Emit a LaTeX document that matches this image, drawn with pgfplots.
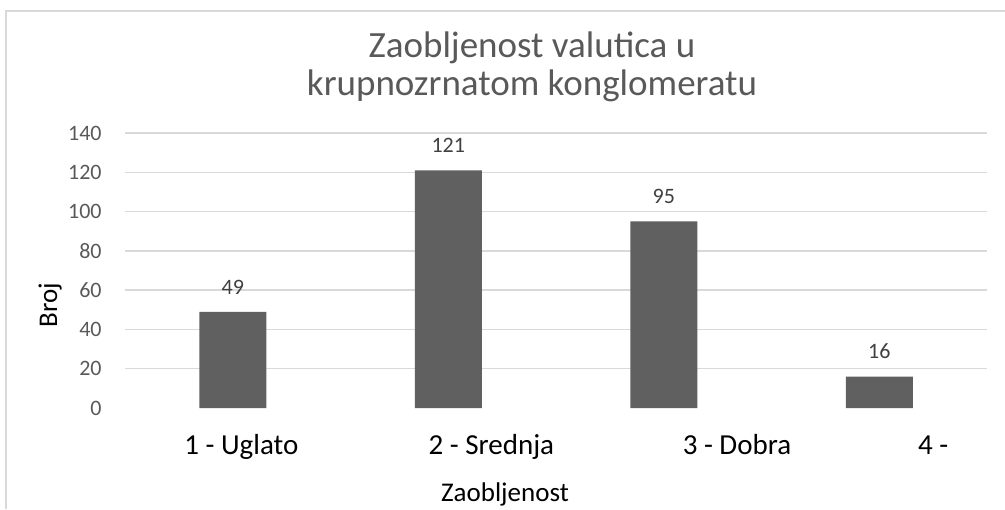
\documentclass[border=0pt]{standalone}
\usepackage{pgfplots}
\pgfplotsset{compat=1.18}
\usepackage{fontspec}
\setmainfont{Carlito}
\definecolor{barc}{HTML}{606060}
\definecolor{gridc}{HTML}{D9D9D9}
\definecolor{tickc}{HTML}{595959}
\definecolor{labc}{HTML}{404040}
\begin{document}
\begin{tikzpicture}[x=0.5pt,y=0.5pt]
\path[use as bounding box] (0,0) rectangle (1005,509);
\draw[gridc, line width=0.8pt] (6,0) -- (6,498) -- (1005,498);
\begin{axis}[
  at={(62.5pt,50.5pt)}, anchor=south west,
  scale only axis, width=431pt, height=137.5pt,
  xmin=-0.5, xmax=3.5, ymin=0, ymax=140,
  axis line style={draw=none},
  major tick length=0pt,
  ytick={20,40,...,140},
  extra y ticks={0},
  extra y tick style={grid=none},
  ymajorgrids, grid style={gridc, line width=0.7pt},
  yticklabel style={font=\fontsize{11}{13}\selectfont, text=tickc, anchor=east, inner sep=0pt, xshift=-11.5pt},
  /pgf/number format/assume math mode=true,
  xtick={0.04,1.2,2.34,3.25},
  xticklabels={1 - Uglato, 2 - Srednja, 3 - Dobra, 4 -},
  xticklabel style={font=\fontsize{14.5}{16}\selectfont, text=black, anchor=base, inner sep=0pt, yshift=-23pt},
  ybar, bar width=33.5pt, bar shift=0pt,
  nodes near coords,
  nodes near coords style={font=\fontsize{11}{13}\selectfont, text=labc, anchor=base, inner sep=0pt, yshift=8.8pt},
]
\addplot[fill=barc, draw=none] coordinates {(0,49) (1,121) (2,95) (3,16)};
\end{axis}
\node[anchor=base, text=tickc, font=\fontsize{18.5}{20}\selectfont, inner sep=0pt] at (532,451) {Zaobljenost valutica u};
\node[anchor=base, text=tickc, font=\fontsize{18.5}{20}\selectfont, inner sep=0pt] at (532,413) {krupnozrnatom konglomeratu};
\node[anchor=base, text=black, font=\fontsize{13.5}{15}\selectfont, inner sep=0pt] at (505,8) {Zaobljenost};
\node[anchor=base, rotate=90, text=black, font=\fontsize{13.5}{15}\selectfont, inner sep=0pt] at (57,204) {Broj};
\end{tikzpicture}
\end{document}
